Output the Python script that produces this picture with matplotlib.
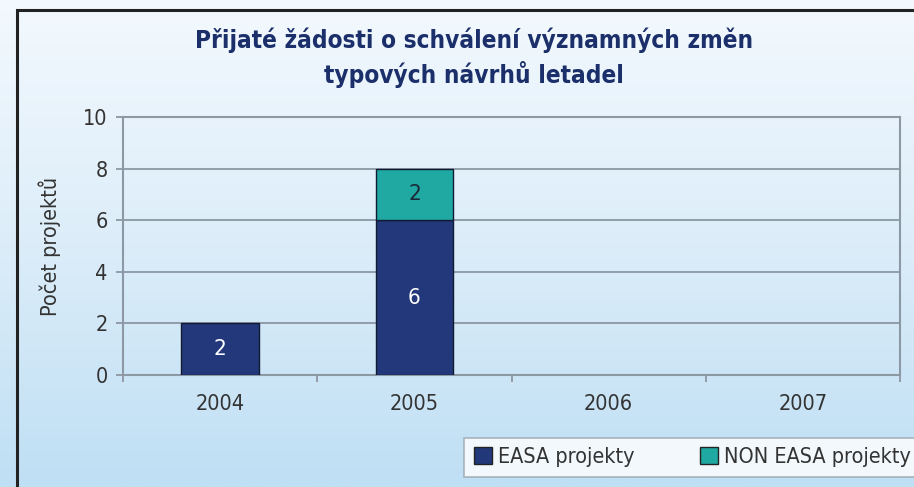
import numpy as np
import matplotlib.pyplot as plt
from matplotlib.patches import Rectangle, Patch
from matplotlib.colors import LinearSegmentedColormap

years = ['2004', '2005', '2006', '2007']
easa = [2, 6, 0, 0]
non_easa = [0, 2, 0, 0]
yticks = [0, 2, 4, 6, 8, 10]

navy = '#22387a'
teal = '#1fa9a2'
title_col = '#1b2f6b'
txt = '#333333'

plt.rcParams['font.family'] = ['DejaVu Sans']
plt.rcParams['font.stretch'] = 'condensed'

fig = plt.figure(figsize=(9.14, 4.87), dpi=100)

# gradient background
bg = fig.add_axes([0, 0, 1, 1], zorder=-2)
grad = np.linspace(0, 1, 256).reshape(-1, 1)
cmap = LinearSegmentedColormap.from_list('bg', ['#f3f9fe', '#dcedf9', '#bfdff4'])
bg.imshow(grad, aspect='auto', cmap=cmap, extent=[0, 1, 0, 1])
bg.axis('off')
# outer frame (left and top edges visible)
fig.add_artist(Rectangle((17 / 914, -0.1), 1.2, 1 - 10 / 487 + 0.1,
                         transform=fig.transFigure, fill=False,
                         edgecolor='#222222', lw=2.2))

ax = fig.add_axes([0.1346, 0.230, 0.8501, 0.5298])
ax.set_facecolor('none')

x = np.arange(len(years))
lw1 = [1 if v > 0 else 0 for v in easa]
lw2 = [1 if v > 0 else 0 for v in non_easa]
ax.bar(x, easa, width=0.4, color=navy, edgecolor='#111a33', linewidth=lw1, zorder=3)
ax.bar(x, non_easa, width=0.4, bottom=easa, color=teal,
       edgecolor='#111a33', linewidth=lw2, zorder=3)
for i in range(len(years)):
    if easa[i] > 0:
        ax.text(x[i], easa[i] / 2, str(easa[i]), ha='center', va='center',
                color='white', fontsize=16, zorder=4)
    if non_easa[i] > 0:
        ax.text(x[i], easa[i] + non_easa[i] / 2, str(non_easa[i]),
                ha='center', va='center', color='#1a2a3a', fontsize=16, zorder=4)

ax.set_xlim(-0.5, len(years) - 0.5)
ax.set_ylim(0, 10)
ax.set_yticks(yticks)
ax.set_yticklabels([str(v) for v in yticks], fontsize=15.5, color=txt)
ax.yaxis.grid(True, color='#8c98a3', lw=1.3, zorder=0)
ax.set_axisbelow(True)
ax.set_xticks(x)
ax.set_xticklabels(years, fontsize=15.5, color=txt)
ax.tick_params(axis='x', length=0, pad=14)
ax.set_xticks(np.arange(-0.5, len(years)), minor=True)
ax.tick_params(axis='x', which='minor', length=5, color='#8c98a3', width=1.3)
ax.tick_params(axis='y', length=5, color='#8c98a3', width=1.3, pad=6)
for s in ax.spines.values():
    s.set_color('#8c98a3')
    s.set_linewidth(1.5)
ax.set_ylabel('Počet projektů', fontsize=15.5, color=txt, labelpad=16)

fig.text(0.519, 0.882, 'Přijaté žádosti o schválení významných změn\ntypových návrhů letadel',
         ha='center', va='center', fontsize=17.5, fontweight='bold',
         color=title_col, linespacing=1.35)

handles = [Patch(facecolor=navy, edgecolor='#222222', label='EASA projekty'),
           Patch(facecolor=teal, edgecolor='#222222', label='NON EASA projekty')]
leg = fig.legend(handles=handles, ncol=2, loc='lower left',
                 bbox_to_anchor=(464 / 914, 1 - 477 / 487), fontsize=15.5,
                 frameon=True, fancybox=False, edgecolor='#9aa4ad',
                 handlelength=0.85, handleheight=0.85, handletextpad=0.3,
                 columnspacing=3.0, borderpad=0.45, borderaxespad=0)
for t in leg.get_texts():
    t.set_color(txt)
leg.get_frame().set_linewidth(1.2)

fig.savefig('out.png', dpi=100)
